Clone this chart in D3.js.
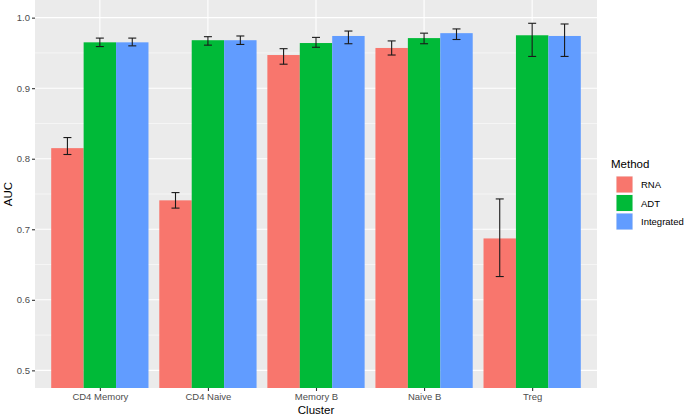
<!DOCTYPE html>
<html>
<head>
<meta charset="utf-8">
<script src="https://cdn.jsdelivr.net/npm/d3@7"></script>
<style>
  body { margin: 0; background: #fff; }
  text { font-family: "Liberation Sans", Arial, Helvetica, sans-serif; }
</style>
</head>
<body>
<svg id="chart" width="685" height="417"></svg>
<script>
const clusters = ["CD4 Memory", "CD4 Naive", "Memory B", "Naive B", "Treg"];
const methods = ["RNA", "ADT", "Integrated"];
const colors = ["#F8766D", "#00BA38", "#619CFF"];
// mean AUC per cluster, one array per method
const rnaMean = [0.815, 0.741, 0.947, 0.957, 0.687];
const adtMean = [0.965, 0.968, 0.964, 0.971, 0.975];
const intMean = [0.965, 0.968, 0.974, 0.978, 0.974];
// error bar lower / upper ends
const rnaLow  = [0.806, 0.730, 0.934, 0.947, 0.633];
const rnaHigh = [0.830, 0.752, 0.956, 0.967, 0.743];
const adtLow  = [0.959, 0.961, 0.958, 0.963, 0.945];
const adtHigh = [0.971, 0.973, 0.972, 0.978, 0.992];
const intLow  = [0.960, 0.962, 0.963, 0.969, 0.945];
const intHigh = [0.971, 0.974, 0.981, 0.984, 0.991];
const yTicks = [0.5, 0.6, 0.7, 0.8, 0.9, 1.0];
const yMinor = [0.55, 0.65, 0.75, 0.85, 0.95];

const means = [rnaMean, adtMean, intMean];
const lows = [rnaLow, adtLow, intLow];
const highs = [rnaHigh, adtHigh, intHigh];
const data = [];
clusters.forEach((c, i) => methods.forEach((m, j) => {
  data.push({cluster: c, method: m, value: means[j][i], lo: lows[j][i], hi: highs[j][i], color: colors[j]});
}));

const svg = d3.select("#chart");
const panel = {left: 35, right: 597, top: 0, bottom: 388};

// ggplot discrete expansion: 0.6 units each side
const step = (panel.right - panel.left) / (clusters.length - 1 + 1.2);
const xPos = d3.scalePoint().domain(clusters)
  .range([panel.left + step * 0.6, panel.right - step * 0.6]);
const groupW = step * 0.9;
const xs = d3.scaleBand().domain(methods).range([0, groupW]);
const barX = d => xPos(d.cluster) - groupW / 2 + xs(d.method);
const barC = d => barX(d) + xs.bandwidth() / 2;

const y = d3.scaleLinear().domain([0.475, 1.025]).range([panel.bottom, panel.top]);

// panel background
svg.append("rect").attr("x", panel.left).attr("y", panel.top)
  .attr("width", panel.right - panel.left).attr("height", panel.bottom - panel.top)
  .attr("fill", "#EBEBEB");

svg.append("clipPath").attr("id", "clip").append("rect")
  .attr("x", panel.left).attr("y", panel.top)
  .attr("width", panel.right - panel.left).attr("height", panel.bottom - panel.top);

// grid
svg.append("g").selectAll("line").data(yMinor).join("line")
  .attr("x1", panel.left).attr("x2", panel.right)
  .attr("y1", d => y(d)).attr("y2", d => y(d))
  .attr("stroke", "#fff").attr("stroke-width", 0.55);
svg.append("g").selectAll("line").data(yTicks).join("line")
  .attr("x1", panel.left).attr("x2", panel.right)
  .attr("y1", d => y(d)).attr("y2", d => y(d))
  .attr("stroke", "#fff").attr("stroke-width", 1.1);
svg.append("g").selectAll("line").data(clusters).join("line")
  .attr("x1", d => xPos(d)).attr("x2", d => xPos(d))
  .attr("y1", panel.top).attr("y2", panel.bottom)
  .attr("stroke", "#fff").attr("stroke-width", 1.1);

// bars
const g = svg.append("g").attr("clip-path", "url(#clip)");
g.selectAll("rect").data(data).join("rect")
  .attr("x", barX)
  .attr("width", xs.bandwidth())
  .attr("y", d => y(d.value))
  .attr("height", d => panel.bottom - y(d.value) + 2)
  .attr("fill", d => d.color);

// error bars
const capW = 8;
const eb = g.selectAll("g.eb").data(data).join("g").attr("class", "eb")
  .attr("stroke", "#1a1a1a").attr("stroke-width", 1.1);
eb.append("line")
  .attr("x1", barC).attr("x2", barC)
  .attr("y1", d => y(d.hi)).attr("y2", d => y(d.lo));
eb.append("line")
  .attr("x1", d => barC(d) - capW / 2).attr("x2", d => barC(d) + capW / 2)
  .attr("y1", d => y(d.hi)).attr("y2", d => y(d.hi));
eb.append("line")
  .attr("x1", d => barC(d) - capW / 2).attr("x2", d => barC(d) + capW / 2)
  .attr("y1", d => y(d.lo)).attr("y2", d => y(d.lo));

// y axis
const yAxis = svg.append("g").attr("transform", `translate(${panel.left},0)`)
  .call(d3.axisLeft(y).tickValues(yTicks).tickFormat(d3.format(".1f")).tickSize(3).tickPadding(2));
yAxis.select(".domain").remove();
yAxis.selectAll(".tick line").attr("stroke", "#333").attr("stroke-width", 1.1);
yAxis.selectAll(".tick text").attr("fill", "#4D4D4D").style("font-size", "9.5px");

// x axis
const xAxis = svg.append("g").attr("transform", `translate(0,${panel.bottom})`)
  .call(d3.axisBottom(xPos).tickSize(3).tickPadding(2));
xAxis.select(".domain").remove();
xAxis.selectAll(".tick line").attr("stroke", "#333").attr("stroke-width", 1.1);
xAxis.selectAll(".tick text").attr("fill", "#4D4D4D").style("font-size", "9.5px");

// axis titles
svg.append("text").attr("x", (panel.left + panel.right) / 2).attr("y", 414)
  .attr("text-anchor", "middle").style("font-size", "11.5px").attr("fill", "#000").text("Cluster");
svg.append("text").attr("transform", `translate(12,${(panel.top + panel.bottom) / 2}) rotate(-90)`)
  .attr("text-anchor", "middle").style("font-size", "11.5px").attr("fill", "#000").text("AUC");

// legend
const lg = svg.append("g").attr("transform", "translate(611,0)");
lg.append("text").attr("x", 0).attr("y", 168).style("font-size", "11.5px").attr("fill", "#000").text("Method");
const items = lg.selectAll("g.item").data(methods).join("g").attr("class", "item")
  .attr("transform", (d, i) => `translate(5,${176 + i * 18.5})`);
items.append("rect").attr("width", 17).attr("height", 17).attr("fill", "#F2F2F2");
items.append("rect").attr("x", 0.5).attr("y", 0.5).attr("width", 16).attr("height", 16)
  .attr("fill", (d, i) => colors[i]);
items.append("text").attr("x", 25).attr("y", 12).style("font-size", "9.5px").attr("fill", "#000").text(d => d);
</script>
</body>
</html>
